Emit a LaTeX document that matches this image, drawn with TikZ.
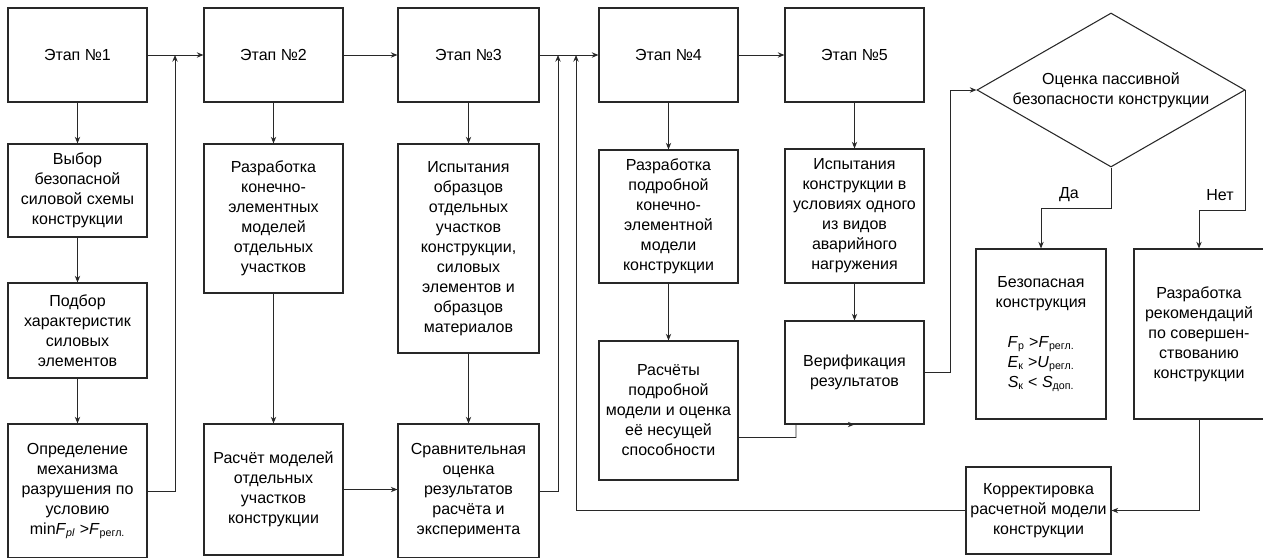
\documentclass[tikz,border=0pt]{standalone}
\usepackage{fontspec}
\setmainfont{Liberation Sans}
\usetikzlibrary{shapes.geometric, arrows.meta, positioning, calc}
\definecolor{cLine}{RGB}{40,40,40}
\newlength{\pxu}
\setlength{\pxu}{0.75pt}
\tikzset{
	stage/.style   ={rectangle, draw=cLine, line width=0.8pt, minimum width=139\pxu, minimum height=94\pxu, align=center, inner sep=1pt, font=\fontsize{12}{15}\selectfont},
	decision/.style={diamond, draw=cLine, line width=0.8pt, aspect=1.74, minimum width=268\pxu, minimum height=154\pxu, inner sep=0pt, align=center, font=\fontsize{12}{15}\selectfont},
	link/.style    ={-{Stealth[length=5pt, width=4pt]}, line width=0.7pt, draw=cLine},
	tag/.style     ={font=\fontsize{12}{15}\selectfont},
}

\begin{document}
\begin{tikzpicture}[x=0.75pt, y=-0.75pt]
	\useasboundingbox (0,0) rectangle (1263,557);
	% top row of stages
	\foreach \n/\x/\w in {1/77.5/139, 2/273.5/139, 3/468.5/141, 4/668.5/139, 5/854.5/139} {
		\node[stage, minimum width=\w\pxu] (e\n) at (\x,55) {Этап №\n};
	}
	\foreach \a/\b in {1/2, 2/3, 3/4, 4/5} {
		\draw[link] (e\a) -- (e\b);
	}
	% column 1
	\node[stage, minimum height=93\pxu] (a1) at (77.5,190.5) {Выбор\\безопасной\\силовой схемы\\конструкции};
	\node[stage, minimum height=95\pxu] (a2) at (77.5,330.5) {Подбор\\характеристик\\силовых\\элементов};
	\node[stage, minimum height=134\pxu] (a3) at (77.5,491) {Определение\\механизма\\разрушения по\\условию\\min\textit{F}\textsubscript{\textit{рl}} >\textit{F}\textsubscript{регл.}};
	% column 2
	\node[stage, minimum height=149\pxu] (b1) at (273.5,218.5) {Разработка\\конечно-\\элементных\\моделей\\отдельных\\участков};
	\node[stage, minimum height=131\pxu] (b2) at (273.5,489.5) {Расчёт моделей\\отдельных\\участков\\конструкции};
	% column 3
	\node[stage, minimum width=141\pxu, minimum height=209\pxu] (c1) at (468.5,248.5) {Испытания\\образцов\\отдельных\\участков\\конструкции,\\силовых\\элементов и\\образцов\\материалов};
	\node[stage, minimum width=141\pxu, minimum height=134\pxu] (c2) at (468.5,491) {Сравнительная\\оценка\\результатов\\расчёта и\\эксперимента};
	% column 4
	\node[stage, minimum height=133\pxu] (d1) at (668.5,216.5) {Разработка\\подробной\\конечно-\\элементной\\модели\\конструкции};
	\node[stage, minimum height=139\pxu] (d2) at (668.5,410.5) {Расчёты\\подробной\\модели и оценка\\её несущей\\способности};
	% column 5
	\node[stage, minimum height=134\pxu] (f1) at (854.5,216) {Испытания\\конструкции в\\условиях одного\\из видов\\аварийного\\нагружения};
	\node[stage, minimum height=103\pxu] (f2) at (854.5,372.5) {Верификация\\результатов};
	% decision and outcomes
	\node[decision] (dia) at (1111,90) {Оценка пассивной\\безопасности конструкции};
	\node[stage, minimum width=130\pxu, minimum height=170\pxu] (s1) at (1041,334) {Безопасная\\конструкция\\[15pt]\textit{F}\textsubscript{р} >\textit{F}\textsubscript{регл.}\\\textit{E}\textsubscript{к} >\textit{U}\textsubscript{регл.}\\\textit{S}\textsubscript{к} < \textit{S}\textsubscript{доп.}};
	\node[stage, minimum width=130\pxu, minimum height=170\pxu] (s2) at (1199,334) {Разработка\\рекомендаций\\по совершен-\\ствованию\\конструкции};
	\node[stage, minimum width=145\pxu, minimum height=87\pxu] (k) at (1038.5,510.5) {Корректировка\\расчетной модели\\конструкции};
	\node[tag] (yes) at (1069,195) {Да};
	\node[tag] (no) at (1220,195) {Нет};
	% vertical links
	\foreach \a/\b in {e1/a1, a1/a2, a2/a3, e2/b1, b1/b2, e3/c1, c1/c2, e4/d1, d1/d2, e5/f1, f1/f2} {
		\draw[link] (\a) -- (\b);
	}
	% return lines into the top row
	\coordinate (j1) at (175,55);
	\coordinate (j2) at (558,55);
	\coordinate (j3) at (576,55);
	\draw[link] (a3.east) -| (j1);
	\draw[link] (c2.east) -| (j2);
	\draw[link] (k.west) -| (j3);
	\draw[link] (b2.east) -- (b2.east -| c2.west);
	\coordinate (v1) at (796,424);
	\draw[link] ($(d2.east)+(0,27)$) -| (v1) -- (f2.south);
	\coordinate (j4) at (950,90);
	\draw[link] (f2.east) -| (j4) -- (dia.west);
	\draw[link] (dia.south) -- ++(0,41) -| (s1.north);
	\draw[link] (dia.east) -- ++(0,120) -| (s2.north);
	\draw[link] (s2.south) |- (k.east);
\end{tikzpicture}
\end{document}
